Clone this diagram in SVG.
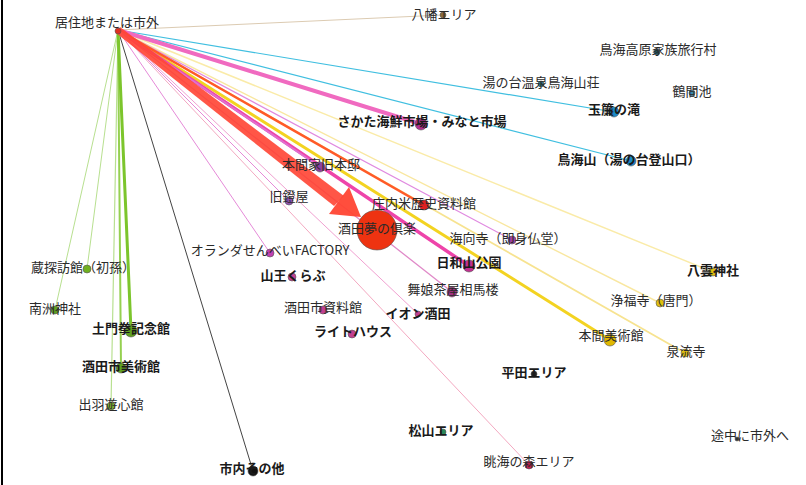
<svg xmlns="http://www.w3.org/2000/svg" width="806" height="485" viewBox="0 0 806 485">
<style>
text{font-family:"Noto Sans CJK JP","Noto Sans",sans-serif;font-size:13px;fill:#2a2a2a;text-anchor:middle}
.b{font-weight:bold;fill:#1a1a1a}
.e{fill:none;stroke-linecap:round}
circle{stroke:#555;stroke-width:0.6}
</style>
<rect width="806" height="485" fill="#fff"/>
<line x1="2" y1="0" x2="2" y2="485" stroke="#000" stroke-width="2"/>
<g id="connectors">
<line class="e" x1="118" y1="30" x2="443" y2="15" stroke="#dccbb2" stroke-width="1"/>
<line class="e" x1="118" y1="30" x2="614" y2="112" stroke="#40bfe0" stroke-width="1.2"/>
<line class="e" x1="118" y1="30" x2="631" y2="161" stroke="#40bfe0" stroke-width="1.2"/>
<line class="e" x1="118" y1="30" x2="713" y2="272" stroke="#faeba8" stroke-width="1.4"/>
<line class="e" x1="118" y1="30" x2="660" y2="303" stroke="#f9e7a0" stroke-width="1.4"/>
<line class="e" x1="118" y1="30" x2="685" y2="353" stroke="#f7e390" stroke-width="1.8"/>
<line class="e" x1="118" y1="30" x2="610" y2="340" stroke="#f3d321" stroke-width="3"/>
<line class="e" x1="118" y1="30" x2="512" y2="240" stroke="#e08ae0" stroke-width="1.2"/>
<line class="e" x1="118" y1="30" x2="452" y2="292" stroke="#e08ac8" stroke-width="1.3"/>
<line class="e" x1="118" y1="30" x2="469" y2="266" stroke="#ee44aa" stroke-width="3.5"/>
<line class="e" x1="118" y1="30" x2="421" y2="124" stroke="#f06ac0" stroke-width="4"/>
<line class="e" x1="118" y1="30" x2="424" y2="205" stroke="#ff5a28" stroke-width="2.5"/>
<line class="e" x1="118" y1="30" x2="320" y2="167" stroke="#e070d0" stroke-width="2"/>
<line class="e" x1="118" y1="30" x2="289" y2="201" stroke="#e58ad8" stroke-width="1"/>
<line class="e" x1="118" y1="30" x2="270" y2="253" stroke="#e58ad8" stroke-width="1"/>
<line class="e" x1="118" y1="30" x2="418" y2="314" stroke="#f0a0d0" stroke-width="1"/>
<line class="e" x1="118" y1="30" x2="529" y2="465" stroke="#f3a8c0" stroke-width="1"/>
<line class="e" x1="118" y1="30" x2="253" y2="471" stroke="#444" stroke-width="1"/>
<line class="e" x1="118" y1="30" x2="55" y2="310" stroke="#b8e090" stroke-width="1"/>
<line class="e" x1="118" y1="30" x2="87" y2="269" stroke="#b8e090" stroke-width="1"/>
<line class="e" x1="118" y1="30" x2="111" y2="406" stroke="#b8e090" stroke-width="1.2"/>
<line class="e" x1="118" y1="30" x2="121" y2="368" stroke="#95d050" stroke-width="2"/>
<line class="e" x1="118" y1="30" x2="131" y2="331" stroke="#7cc52c" stroke-width="3"/>
<polygon points="116,33 120,27 344,196 334,206" fill="#ff4433" opacity="0.9"/>
<polygon points="349,187 361,217 329,214" fill="#ff4433" opacity="0.95"/>
</g>
<g id="n-source"><circle cx="118" cy="31" r="3" fill="#e03020"/><text x="107" y="27">居住地または市外</text></g>
<g id="n-yawata"><circle cx="443" cy="15" r="3" fill="#8a6a3a"/><text x="444" y="19">八幡エリア</text></g>
<g id="n-kogen"><circle cx="657" cy="52" r="3" fill="#1a5a6a"/><text x="658" y="54">鳥海高原家族旅行村</text></g>
<g id="n-yunodai"><circle cx="541" cy="84" r="3" fill="#2a7a8a"/><text x="541" y="87">湯の台温泉鳥海山荘</text></g>
<g id="n-tsurumaike"><circle cx="692" cy="93" r="3" fill="#3a8ab0"/><text x="692" y="96">鶴間池</text></g>
<g id="n-tamasudare"><circle cx="614" cy="112" r="5" fill="#1a8ac8"/><text class="b" x="614" y="114">玉簾の滝</text></g>
<g id="n-sakata-kaisen"><circle cx="421" cy="124" r="6" fill="#b03090"/><text class="b" x="422" y="126">さかた海鮮市場・みなと市場</text></g>
<g id="n-chokaisan"><circle cx="631" cy="161" r="5" fill="#1a8ac8"/><text class="b" x="629" y="164">鳥海山（湯の台登山口）</text></g>
<g id="n-homma-kyuhontei"><circle cx="320" cy="167" r="5" fill="#9040a0"/><text x="321" y="169">本間家旧本邸</text></g>
<g id="n-kyuabumiya"><circle cx="289" cy="201" r="4" fill="#9050b0"/><text x="289" y="201">旧鐙屋</text></g>
<g id="n-shonai-mai"><circle cx="424" cy="205" r="5" fill="#e02020"/><text x="424" y="208">庄内米歴史資料館</text></g>
<g id="n-yume"><circle cx="377" cy="230" r="20" fill="#ee3311"/><text x="377" y="233">酒田夢の倶楽</text></g>
<g id="n-kaikoji"><circle cx="512" cy="240" r="4" fill="#a040a0"/><text x="508" y="243">海向寺（即身仏堂）</text></g>
<g id="n-oranda"><circle cx="270" cy="253" r="4" fill="#c040b0"/><text x="270" y="255">オランダせんべいFACTORY</text></g>
<g id="n-hiyoriyama"><circle cx="469" cy="266" r="6" fill="#c03090"/><text class="b" x="469" y="267">日和山公園</text></g>
<g id="n-kura"><circle cx="87" cy="269" r="4" fill="#70b020"/><text x="83" y="272">蔵探訪館（初孫）</text></g>
<g id="n-yakumo"><circle cx="713" cy="272" r="4" fill="#e0c010"/><text class="b" x="713" y="275">八雲神社</text></g>
<g id="n-sanno"><circle cx="292" cy="277" r="4" fill="#c04090"/><text class="b" x="293" y="280">山王くらぶ</text></g>
<g id="n-somaro"><circle cx="452" cy="292" r="5" fill="#a03080"/><text x="453" y="294">舞娘茶屋相馬楼</text></g>
<g id="n-nanshu"><circle cx="55" cy="310" r="4" fill="#60a020"/><text x="55" y="313">南洲神社</text></g>
<g id="n-jofukuji"><circle cx="660" cy="303" r="4" fill="#e0c010"/><text x="656" y="305">浄福寺（唐門）</text></g>
<g id="n-shiryokan"><circle cx="323" cy="310" r="4" fill="#c04090"/><text x="323" y="312">酒田市資料館</text></g>
<g id="n-domon"><circle cx="131" cy="331" r="6" fill="#60a020"/><text class="b" x="131" y="333">土門拳記念館</text></g>
<g id="n-aeon"><circle cx="418" cy="314" r="3" fill="#c04090"/><text class="b" x="418" y="318">イオン酒田</text></g>
<g id="n-lighthouse"><circle cx="352" cy="334" r="4" fill="#c04090"/><text class="b" x="353" y="336">ライトハウス</text></g>
<g id="n-homma-bijutsu"><circle cx="610" cy="340" r="6" fill="#e0b800"/><text x="611" y="340">本間美術館</text></g>
<g id="n-senryuji"><circle cx="685" cy="353" r="4" fill="#e0c010"/><text x="686" y="356">泉流寺</text></g>
<g id="n-bijutsukan"><circle cx="121" cy="368" r="5" fill="#60a020"/><text class="b" x="121" y="371">酒田市美術館</text></g>
<g id="n-hirata"><circle cx="534" cy="374" r="3" fill="#222"/><text class="b" x="534" y="377">平田エリア</text></g>
<g id="n-dewa"><circle cx="111" cy="406" r="4" fill="#80b030"/><text x="111" y="409">出羽遊心館</text></g>
<g id="n-matsuyama"><circle cx="443" cy="432" r="3" fill="#2a8a5a"/><text class="b" x="441" y="435">松山エリア</text></g>
<g id="n-tochu"><circle cx="737" cy="439" r="2" fill="#333"/><text x="750" y="440">途中に市外へ</text></g>
<g id="n-shinai"><circle cx="253" cy="471" r="5" fill="#111"/><text class="b" x="252" y="473">市内その他</text></g>
<g id="n-chokai-mori"><circle cx="529" cy="465" r="4" fill="#c02050"/><text x="529" y="466">眺海の森エリア</text></g>
</svg>
